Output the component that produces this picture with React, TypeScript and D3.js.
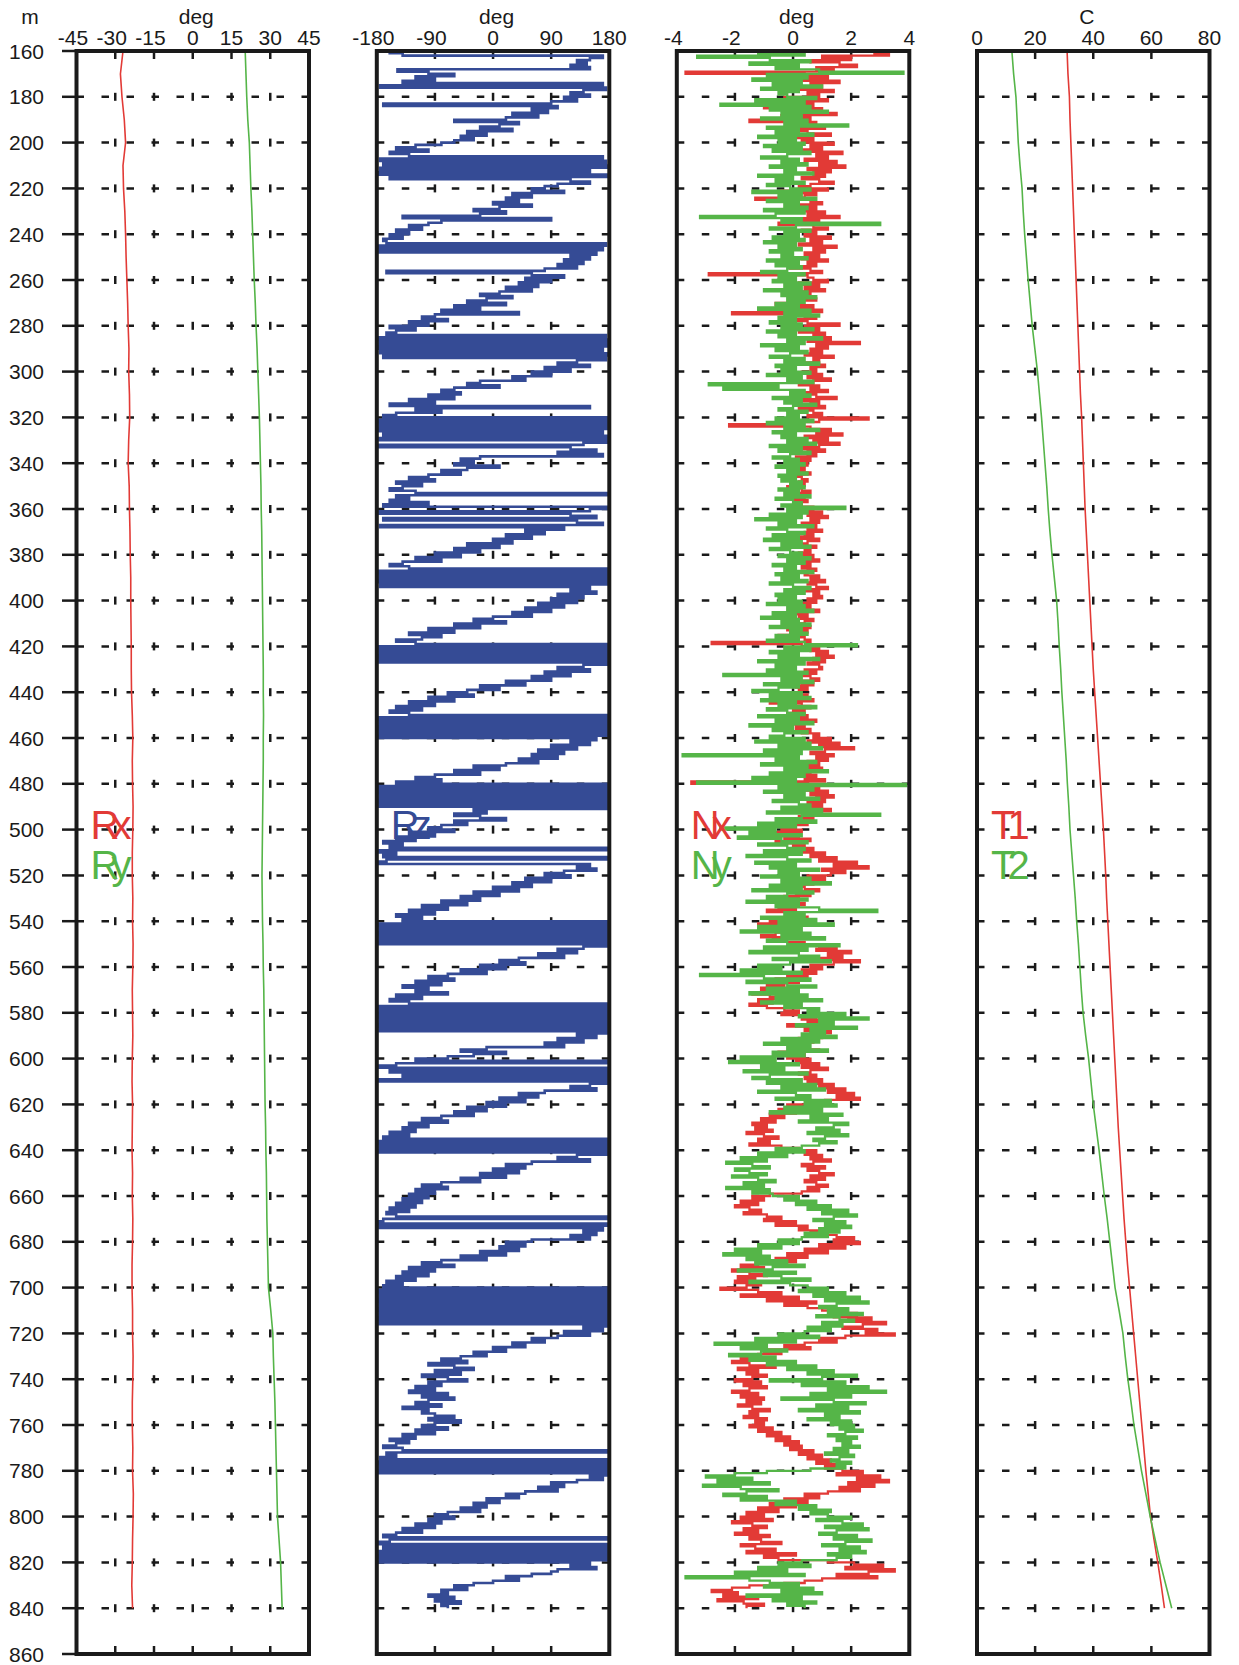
import React, { useEffect, useRef } from 'react';
import * as d3 from 'd3';

// depth axis (m)
const depthTicks = [160, 180, 200, 220, 240, 260, 280, 300, 320, 340, 360, 380, 400, 420, 440, 460, 480, 500, 520, 540, 560, 580, 600, 620, 640, 660, 680, 700, 720, 740, 760, 780, 800, 820, 840, 860];

// coarse logs, one value every 10 m from 160 to 840
const coarseDepth = d3.range(160, 841, 10);
const rx = [
  -27.0, -28.0, -27.4, -26.5, -26.0, -27.0, -26.8, -26.3, -26.0, -25.8,
  -25.5, -25.2, -25.0, -24.7, -24.8, -24.5, -24.4, -24.8, -25.0, -24.6,
  -24.5, -24.3, -24.2, -24.0, -24.0, -23.9, -23.8, -23.8, -23.7, -23.4,
  -23.2, -23.4, -23.3, -23.1, -23.2, -23.4, -23.4, -23.2, -23.3, -23.1,
  -23.2, -23.4, -23.3, -23.2, -23.4, -23.5, -23.3, -23.4, -23.5, -23.3,
  -23.4, -23.2, -23.3, -23.5, -23.5, -23.3, -23.3, -23.1, -23.2, -23.4,
  -23.4, -23.2, -23.3, -23.0, -23.1, -23.3, -23.4, -23.6, -23.3,
];
const ry = [
  20.3, 20.6, 20.9, 21.3, 21.9, 22.2, 22.5, 22.9, 23.2, 23.5,
  23.8, 24.2, 24.5, 24.9, 25.2, 25.5, 25.8, 26.0, 26.2, 26.4,
  26.5, 26.7, 26.8, 26.9, 27.0, 27.1, 27.2, 27.3, 27.3, 27.4,
  27.3, 27.3, 27.2, 27.1, 27.0, 26.9, 26.8, 26.9, 27.0, 27.2,
  27.3, 27.5, 27.6, 27.7, 27.8, 27.9, 28.0, 28.2, 28.3, 28.5,
  28.6, 28.7, 28.9, 29.1, 29.3, 30.2, 31.0, 31.2, 31.5, 31.8,
  32.0, 32.2, 32.4, 32.6, 32.8, 33.4, 34.0, 34.3, 34.6,
];
const t1 = [
  31.0, 31.3, 31.8, 32.0, 32.3, 32.6, 32.9, 33.2, 33.5, 33.8,
  34.1, 34.4, 34.7, 35.0, 35.3, 35.6, 36.0, 36.3, 36.6, 36.9,
  37.2, 37.6, 38.0, 38.4, 38.8, 39.2, 39.6, 40.0, 40.5, 41.0,
  41.5, 42.0, 42.5, 43.0, 43.5, 43.9, 44.3, 44.6, 45.0, 45.4,
  45.8, 46.2, 46.6, 47.0, 47.4, 47.8, 48.2, 48.6, 49.1, 49.6,
  50.1, 50.6, 51.2, 51.8, 52.5, 53.2, 53.9, 54.6, 55.3, 56.0,
  56.7, 57.4, 58.1, 58.9, 59.7, 60.9, 62.2, 63.4, 64.5,
];
const t2 = [
  12.0, 12.6, 13.4, 13.8, 14.2, 14.8, 15.5, 15.9, 16.4, 17.0,
  17.6, 18.3, 19.0, 19.9, 20.8, 21.5, 22.2, 22.8, 23.4, 24.0,
  24.5, 25.1, 25.8, 26.6, 27.4, 27.9, 28.3, 28.8, 29.2, 29.7,
  30.2, 30.7, 31.1, 31.6, 32.0, 32.6, 33.2, 33.8, 34.3, 34.9,
  35.4, 35.9, 36.5, 37.4, 38.4, 39.2, 40.0, 41.0, 42.0, 42.9,
  43.8, 44.8, 45.7, 46.6, 47.5, 48.9, 50.2, 51.0, 51.9, 53.0,
  54.0, 55.3, 56.6, 58.1, 59.6, 61.3, 63.0, 65.0, 67.0,
];

// fine logs, one value every metre from 160 to 840
const fineDepth = d3.range(160, 841, 1);
const rz = [
  -170, -160, -140, 170, 150, 130, 145, 120, 150, -148,
  -100, -60, -120, -90, -140, 170, -175, 175, 140, 120,
  150, 110, 130, 90, -170, 100, 60, 85, 30, 70,
  20, -60, 40, 10, -20, 30, -40, -10, -50, -30,
  -60, -80, -120, -150, -100, -160, -130, 170, -175, 175,
  -170, 178, -175, 150, -178, 178, -160, 120, 150, 100,
  80, 60, 110, 30, 60, 20, 40, 0, 60, 10,
  -30, 20, -20, -140, 90, -80, -100, -130, -110, -150,
  -130, -160, -140, -170, -165, 175, -178, 170, -176, 160,
  120, 150, 110, 140, 100, 130, 80, -165, 60, 110,
  50, 90, 40, 70, 20, 60, 10, -20, 30, -10,
  -40, 20, -60, -20, -80, 40, -90, -110, -70, -130,
  -100, -160, -120, -150, -165, 175, -178, 178, -176, 176,
  -178, 170, -175, 178, -170, 175, 130, 100, 150, 80,
  120, 60, 90, 30, 50, -20, -40, 10, -60, -80,
  -50, -100, -60, -130, -90, -160, 150, -120, -80, -150,
  -170, 178, -178, 176, -176, 178, -178, 170, -170, 178,
  -176, 176, 140, -178, 120, 160, 100, 170, -20, -50,
  -30, -60, 10, -40, -80, -50, -100, -130, -90, -150,
  -110, -140, -160, -120, 178, -150, -130, -160, -100, -170,
  178, 150, -176, 120, 160, -170, 130, 170, -175, 110,
  50, 80, 20, 60, 0, 30, -40, 10, -60, -20,
  -90, -50, -120, -80, -140, -160, -130, 178, -178, 176,
  -176, 178, -178, 176, -175, 150, 120, 160, 100, 140,
  90, 130, 70, 110, 50, 90, 30, 60, 0, -30,
  20, -60, -20, -100, -60, -130, -80, -110, -150, -120,
  178, -178, 176, -176, 178, -178, 176, -176, 178, 140,
  100, 150, 80, 120, 60, 90, 20, 50, -20, 10,
  -40, -70, -30, -100, -60, -130, -90, -150, -110, -160,
  -130, 178, -178, 176, -176, 178, -178, 176, -176, 178,
  -178, 160, 120, 150, 90, 130, 70, 110, 60, 100,
  40, 70, 20, -30, 10, -60, -20, -90, -120, -80,
  -150, 178, -178, 178, -178, 176, -176, 178, -178, 176,
  -176, 178, -30, -10, -60, -20, 20, -60, -40, -80,
  -100, -60, -130, -90, -150, -120, -170, -140, -160, 176,
  -176, -150, -170, 178, -165, -178, 150, 130, 160, 110,
  80, 120, 50, 90, 30, 60, 0, 40, -30, 10,
  -50, -20, -80, -40, -110, -70, -130, -90, -150, -110,
  -140, 178, -178, 176, -176, 178, -178, 176, -176, 178,
  -178, 176, 140, 100, 130, 70, 110, 40, 10, 50,
  -20, 20, -50, -10, -70, -100, -60, -120, -80, -140,
  -100, -120, -70, -150, -110, -160, -130, 178, -178, 176,
  -176, 178, -178, 176, -176, 178, -178, 176, -176, 178,
  130, 160, 100, 140, 80, 110, -10, -50, 20, -30,
  -70, -120, 178, -150, -176, 176, -160, 178, -140, 176,
  -178, 178, 150, 120, 160, 80, 40, 70, 10, 50,
  -10, 20, -40, -10, -60, -30, -80, -110, -70, -130,
  -100, -140, -120, -160, -130, -170, 178, -178, 176, -176,
  178, -178, 176, 130, 100, 150, 60, 20, 50, 0,
  40, -20, 20, -50, -20, -80, -110, -70, -120, -90,
  -130, -100, -140, -110, -150, -120, -160, -130, -165, -150,
  178, -170, -178, 176, -176, 170, 140, 160, 120, 150,
  60, 20, 50, 10, 40, -20, 20, -50, -10, -80,
  -110, -60, -130, -90, -140, -100, -150, -120, -165, -140,
  -170, 178, -178, 176, -176, 178, -178, 176, -176, 178,
  -178, 176, -176, 178, -178, 176, -176, 178, 140, 170,
  110, 150, 100, 60, 80, 30, 50, 0, 20, -30,
  -10, -50, -80, -40, -100, -60, -30, -90, -50, -110,
  -70, -40, -100, -80, -120, -90, -130, -70, -110, -60,
  -100, -120, -80, -140, -100, -110, -90, -60, -100, -50,
  -90, -110, -70, -120, -90, -140, -120, -160, -130, -150,
  -170, -140, 178, -165, -150, -175, 178, -178, 176, -176,
  178, -178, 176, 150, 170, 130, 90, 110, 70, 100,
  50, 20, 40, -10, 10, -30, -10, -50, -20, -70,
  -90, -60, -100, -80, -120, -90, -140, -110, -150, -170,
  178, -160, -178, 176, -170, 178, -176, 176, -178, 178,
  -176, 150, 120, 160, 100, 90, 60, 20, 40, 0,
  -30, -60, -40, -80, -70, -100, -60, -90, -50, -80,
  -70,
];
const nx = [
  1.2, 2.8, 3.3, 1.0, 2.0, 0.6, 1.6, 2.2, 0.8, 1.4,
  -3.7, 0.4, 1.2, 0.2, 1.6, 0.6, 1.0, -0.2, 1.4, 0.5,
  0.9, -0.3, 1.2, 0.1, 0.7, -1.0, 1.0, 0.3, 1.5, -0.4,
  0.6, -1.5, 0.8, 0.2, 1.1, -0.2, 0.5, 1.3, 0.0, 0.7,
  0.3, 1.4, 0.6, 1.0, 0.2, 1.7, 0.8, 1.2, 0.4, 1.5,
  0.9, 1.8, 0.5, 1.3, 0.7, 1.1, 0.3, 0.9, 1.4, 0.6,
  0.2, 1.2, -0.4, 0.8, 0.4, -1.3, 0.6, 1.0, 0.1, 0.8,
  -0.2, 1.1, 0.5, 1.6, 0.2, 0.9, -0.5, 0.7, 1.2, 0.3,
  0.8, 0.4, 1.3, 0.6, 1.0, 0.2, 1.5, 0.7, 1.1, 0.4,
  0.9, 0.3, 1.2, 0.5, 0.8, -0.1, 0.6, 1.0, -2.9, 0.5,
  0.7, 1.2, 0.2, 0.9, 0.4, 1.1, -0.3, 0.6, 0.1, 0.8,
  0.3, -0.6, 0.7, 0.2, 1.0, -2.1, 0.4, 0.8, 0.0, 0.5,
  1.6, 0.4, 0.9, 0.2, 1.1, 0.7, 1.3, 0.5, 2.3, 0.8,
  1.2, 0.6, 1.0, 0.4, 1.4, 0.7, 0.9, 0.3, 1.1, 0.6,
  0.8, 0.3, 1.0, 0.5, 1.3, 0.7, 0.2, 0.9, 0.6, 1.2,
  0.4, 0.8, 1.5, 0.3, 0.9, 0.6, 1.1, 0.2, 0.7, 1.0,
  0.5, 2.6, 0.9, 0.2, -2.2, 0.6, 1.3, 0.8, 1.7, 0.4,
  1.2, 0.7, 1.6, 0.9, 0.3, 1.1, 0.5, 0.8, 0.1, 0.6,
  0.2, 0.5, -0.1, 0.4, 0.1, 0.6, 0.0, 0.3, 0.5, 0.2,
  0.4, -0.2, 0.3, 0.6, 0.1, 0.4, -0.1, 0.5, 0.2, 0.3,
  0.7, 0.4, 1.0, 0.5, 1.2, 0.6, 0.9, 0.3, 0.8, 0.5,
  1.0, 0.4, 0.7, 0.2, 0.9, 0.5, 0.3, 0.8, 0.4, 0.6,
  0.2, 0.7, 0.4, 0.9, 0.1, 0.6, 0.3, 0.8, 0.5, 0.4,
  0.9, 0.6, 1.1, 0.5, 0.8, 1.2, 0.4, 0.9, 0.7, 1.0,
  0.5, 0.8, 0.2, 0.6, 0.3, 0.9, -0.1, 0.5, 0.2, 0.7,
  0.4, 0.1, 0.6, -0.2, 0.5, 0.3, -0.5, 0.4, 0.6, -2.8,
  0.3, 0.9, 0.6, 1.2, 0.8, 1.4, 0.7, 1.1, 0.5, 0.9,
  1.0, 0.4, 0.8, 0.2, 0.6, 0.9, 0.3, 0.7, 0.1, 0.5,
  0.2, -0.4, 0.5, 0.1, 0.7, -0.8, 0.3, 0.6, 0.0, 0.4,
  -0.2, 0.5, 0.2, 0.8, -0.5, 0.4, 0.1, 0.6, 0.3, 0.9,
  0.7, 1.3, 0.5, 1.6, 0.9, 2.1, 1.1, 0.6, 1.4, 0.8,
  1.2, 0.5, 0.9, 0.3, 1.0, 0.6, 0.2, 0.8, 0.4, 1.1,
  -3.5, 0.5, 0.9, 0.3, 1.2, 0.6, 1.4, 0.8, 1.1, 0.5,
  1.0, 0.6, 1.3, 0.4, 0.9, 0.2, 0.7, -0.3, 0.5, 0.1,
  -0.4, 0.3, -0.8, 0.2, -0.3, 0.6, -0.6, 0.4, 0.0, 0.7,
  0.3, 1.1, 0.6, 1.5, 0.9, 2.2, 1.4, 2.6, 1.0, 1.8,
  1.3, 0.5, 1.1, 0.2, 0.7, -0.2, 0.4, 0.9, 0.1, 0.6,
  -0.3, 0.2, -0.7, 0.4, -0.5, 0.1, -0.9, 0.3, -0.2, 0.5,
  -0.8, -0.2, -1.2, -0.5, -0.9, 0.1, -0.6, -1.1, -0.3, -0.7,
  0.4, 0.9, 1.5, 0.8, 2.0, 1.2, 1.7, 0.9, 2.3, 1.4,
  0.6, 1.0, 0.3, 0.8, -0.2, 0.5, -0.6, 0.2, -0.9, -0.3,
  -1.1, -0.5, -1.4, -0.8, -0.4, -1.2, -0.7, -1.5, -0.9, -0.3,
  0.2, -0.4, 0.8, 0.3, 1.1, 0.5, -0.2, 0.9, 0.4, 1.3,
  0.6, 1.0, 0.2, 0.7, -0.3, 0.5, 0.1, 0.9, -0.5, 0.4,
  -0.2, 0.6, 0.1, 0.9, 0.3, 1.2, 0.6, 0.2, 0.8, 0.4,
  1.0, 0.5, 1.4, 0.9, 1.8, 1.2, 2.1, 1.5, 2.3, 1.1,
  0.6, -0.2, 0.3, -0.5, 0.1, -0.8, -0.3, -1.1, -0.6, -1.4,
  -0.9, -1.3, -0.7, -1.6, -1.0, -0.5, -1.2, -0.8, -1.5, -0.4,
  0.2, 0.8, 0.4, 1.0, 0.6, 1.3, 0.7, 0.3, 1.1, 0.5,
  0.9, 1.4, 0.6, 1.1, 0.4, 0.8, 1.2, 0.5, 0.9, 0.3,
  -0.8, -1.4, -1.0, -1.8, -1.2, -2.0, -1.5, -1.1, -1.7, -0.9,
  -0.4, -1.0, 0.1, -0.6, 0.5, 0.2, 1.0, 0.6, 1.5, 2.1,
  1.4, 2.3, 0.9, 1.8, 0.4, 1.2, -0.2, 0.5, -0.6, 0.1,
  -1.2, -1.8, -1.0, -2.1, -1.5, -0.9, -1.9, -1.3, -2.0, -1.1,
  -1.6, -2.5, -1.2, -0.4, -1.8, 0.2, -0.9, 0.8, -0.3, 0.5,
  1.0, 1.6, 2.2, 1.4, 2.7, 1.9, 3.2, 2.4, 1.7, 2.9,
  2.5, 3.5, 1.8, 0.9, 1.5, 0.4, -0.3, 0.6, -1.0, -0.4,
  -1.2, -1.8, -0.8, -2.1, -1.5, -0.6, -1.9, -1.2, -1.6, -0.9,
  -1.4, -2.0, -1.1, -1.7, -0.9, -1.5, -2.1, -1.2, -1.8, -1.0,
  -1.6, -1.1, -1.9, -1.4, -0.8, -1.5, -1.2, -1.7, -0.9, -1.3,
  -1.0, -1.5, -0.7, -1.2, -0.4, -0.9, -0.1, -0.6, 0.2, -0.3,
  0.3, -0.1, 0.7, 0.2, 1.0, 0.5, 1.3, 0.8, 1.6, 1.1,
  1.7, 2.4, 1.5, 3.0, 2.2, 3.3, 1.9, 2.8, 1.6, 2.3,
  1.2, 0.4, 0.9, -0.3, 0.5, -0.8, 0.1, -1.2, -0.5, -1.6,
  -1.0, -1.8, -0.7, -2.1, -1.4, -0.9, -1.7, -1.2, -2.0, -0.8,
  -1.5, -1.1, -0.4, -1.8, -1.3, -0.6, -1.6, 0.1, -1.0, -0.5,
  1.2, 2.1, 3.1, 1.8, 3.5, 2.6, 1.5, 2.9, 1.0, 0.4,
  -0.3, -1.5, -2.1, -2.8, -1.9, -2.4, -1.2, -2.6, -1.7, -1.0,
  -1.6,
];
const ny = [
  -3.9, -1.2, 0.4, -3.3, -0.8, 0.6, -1.5, 0.2, -0.6, 0.9,
  3.8, -0.9, 0.5, -1.4, 0.3, -0.7, 1.0, -1.1, 0.2, -0.5,
  -0.2, 0.8, -1.3, 0.4, -2.5, 0.6, -0.8, 1.2, -0.4, 0.3,
  -1.1, 0.5, -0.3, 1.9, -0.9, 0.2, -0.6, 0.7, -1.2, 0.1,
  -0.5, 0.4, -1.0, 0.3, -0.7, 0.6, -0.2, -1.1, 0.2, -0.4,
  0.5, -0.8, 0.1, -0.3, 0.7, -1.2, 0.0, -0.6, 0.4, -0.9,
  -0.1, 0.6, -1.4, 0.3, -0.5, 0.8, -0.9, 0.2, -0.3, 0.5,
  -1.0, 0.4, -0.6, -3.2, 0.3, -0.4, 3.0, 0.1, -0.8, 0.6,
  -0.3, 0.2, -0.7, 0.4, -1.0, 0.1, -0.5, 0.3, -0.8, 0.0,
  -0.4, 0.5, -0.9, 0.2, -0.6, 0.3, -0.2, -1.1, 0.4, -0.5,
  0.1, -0.7, 0.6, -0.3, 0.3, -1.0, 0.5, -0.4, 0.8, -0.2,
  0.4, -0.6, 0.2, -1.2, 0.6, -0.3, 0.9, -0.5, 0.1, -0.8,
  0.3, -0.4, 0.7, -0.9, 0.1, -0.5, 1.0, -0.2, 0.4, -1.1,
  0.2, -0.6, 0.5, -0.1, -0.8, 0.4, -0.3, 0.9, -0.6, 0.1,
  -0.4, 0.6, -0.9, 0.3, -0.2, 0.7, -2.9, -0.5, -2.4, 0.4,
  -0.1, 0.6, -0.7, 0.3, -0.3, 0.8, 0.0, -0.5, 0.5, -0.2,
  0.2, -0.6, 0.7, -0.9, 0.4, -0.3, 0.9, -0.7, 0.1, -0.4,
  0.5, -0.2, 0.8, -0.8, 0.3, -0.5, 0.6, -0.1, -0.7, 0.2,
  -0.3, 0.4, -0.6, 0.2, -0.2, 0.5, -0.5, 0.1, -0.4, 0.3,
  -0.1, 0.4, -0.5, 0.2, -0.3, 0.6, -0.6, 0.0, 0.3, -0.4,
  1.8, -0.2, 0.5, -0.8, 0.3, -1.3, 0.1, -0.5, 0.7, -0.9,
  -0.2, 0.4, -0.7, 0.2, -1.0, 0.3, -0.4, 0.6, -0.8, -0.1,
  0.3, -0.5, 0.6, -0.2, 0.4, -0.7, 0.1, -0.3, 0.7, -0.6,
  0.2, -0.4, 0.5, -0.8, 0.0, 0.6, -0.3, 0.4, -0.6, 0.1,
  -0.5, 0.3, -0.9, 0.4, -0.2, 0.7, -0.7, 0.1, -1.1, 0.2,
  -0.4, 0.6, -0.8, 0.3, -0.1, 0.5, -0.6, 0.2, -0.9, 0.4,
  2.2, -0.3, 0.6, -0.8, 0.2, -0.5, 0.9, -1.2, 0.4, -0.6,
  0.1, -0.9, 0.5, -2.4, 0.3, -0.4, 0.7, -1.0, 0.2, -0.5,
  -1.4, 0.3, -0.8, 0.6, -1.1, 0.1, -0.5, 0.8, -0.9, -0.2,
  0.4, -1.2, 0.2, -0.6, 0.7, -1.5, 0.0, -0.7, 0.5, -0.3,
  -0.8, 0.4, -1.3, 0.6, -0.5, 1.0, -1.0, 0.3, -3.8, 0.2,
  -0.6, 0.8, -1.1, 0.5, -0.3, 1.2, -0.8, 0.4, -1.4, 0.1,
  -3.3, 3.9, -0.5, 0.7, -1.0, 0.4, -0.3, 0.9, -0.7, 0.2,
  0.6, -0.4, 1.0, -0.9, 3.0, 0.3, -0.6, 0.8, -1.2, 0.1,
  -2.5, -0.6, -1.5, 0.3, -1.9, -0.4, 0.5, -1.2, -0.2, 0.4,
  -1.0, 0.3, -1.6, -0.2, 0.6, -1.3, 0.1, -0.8, 0.9, -0.5,
  0.2, -1.1, 0.6, -0.4, 1.3, -0.8, 0.3, -1.4, 0.7, -0.2,
  -0.9, 0.5, -1.6, 0.2, -0.6, 0.9, 2.9, -0.3, 0.4, -1.1,
  0.8, -0.5, 1.4, -1.2, 0.3, -1.8, 0.6, -0.4, 1.1, -0.9,
  -0.2, 1.6, -1.0, 0.5, -1.5, 0.2, 0.9, -0.7, 1.3, -0.1,
  -1.2, -0.4, -1.8, 0.3, -3.2, -1.0, 0.6, -1.6, -0.2, 0.8,
  -0.9, 0.2, -1.5, 0.5, -0.6, 1.0, -1.1, 0.3, -0.3, 0.9,
  0.5, 1.8, 0.2, 2.6, 0.9, 1.4, 0.1, 2.2, 0.6, 1.1,
  0.3, 1.5, -0.4, 0.9, -1.0, 0.6, -0.2, 1.2, -0.7, 0.4,
  -1.8, -0.6, -2.2, 0.2, -1.1, -0.3, -1.7, 0.5, -0.8, -1.4,
  0.3, -0.9, 0.8, -0.4, 1.1, -1.2, 0.1, 0.6, -0.6, 1.3,
  0.4, 1.5, -0.3, 1.0, -0.8, 1.7, 0.6, 1.2, 0.2, 1.9,
  1.4, 0.8, 1.6, 0.5, 1.9, 1.1, 0.7, 1.5, 0.9, 0.3,
  -0.6, 0.4, -1.2, -0.2, -1.8, -0.9, -2.3, -1.4, -0.8, -2.0,
  -1.5, -0.9, -2.1, -1.2, -0.6, -1.7, -1.0, -2.3, -0.8, -1.4,
  -0.7, 0.2, -0.3, 0.8, 0.1, 1.3, 0.5, 1.9, 1.0, 2.2,
  1.4, 0.7, 1.8, 1.1, 2.0, 0.9, 1.6, 0.4, 1.2, 0.3,
  -0.5, 0.2, -1.2, -0.4, -2.0, -1.1, -2.4, -0.8, -1.6, -0.2,
  -1.3, 0.4, -0.7, -1.9, 0.1, -1.0, -0.4, 0.6, -1.5, -0.1,
  0.5, 1.2, 0.2, 1.8, 0.7, 2.3, 1.1, 2.6, 1.5, 0.9,
  1.9, 1.2, 2.4, 0.8, 1.6, 2.1, 1.0, 1.7, 0.5, 1.3,
  0.4, -0.5, 0.9, -1.3, 0.1, -2.7, -0.9, -1.8, -0.2, -1.1,
  -2.2, -0.6, -1.5, 0.1, -0.9, 0.8, -0.2, 1.4, 0.5, 2.2,
  1.0, -0.8, 1.8, 0.3, 2.6, 1.2, 3.2, 0.6, 2.0, -0.4,
  1.4, 2.5, 0.8, 1.9, 0.2, 2.3, 1.1, 1.6, 0.5, 2.0,
  1.3, 2.1, 1.6, 2.4, 1.8, 1.2, 2.2, 1.5, 2.0, 1.7,
  2.3, 1.4, 1.9, 1.1, 2.1, 1.6, 1.3, 2.0, 1.5, 1.8,
  0.6, -0.9, -2.0, -3.0, -1.4, -2.6, -0.8, -3.1, -1.8, -0.5,
  -1.6, -2.4, -0.9, -1.8, 0.1, -0.6, 0.8, 0.2, 1.3, 0.6,
  1.2, 2.0, 0.8, 1.7, 2.4, 1.1, 2.6, 1.5, 0.9, 2.2,
  1.4, 2.7, 1.8, 1.0, 2.3, 1.6, 2.5, 1.2, 2.0, 1.5,
  0.3, -0.5, 0.6, -1.2, -0.2, -2.0, 0.4, -3.7, -1.5, -0.8,
  0.2, -1.0, 0.7, -0.4, 1.0, -1.6, 0.3, -0.7, 0.8, -0.2,
  0.4,
];

const RED = '#e23a36';
const GREEN = '#55b548';
const BLUE = '#354b95';
const INK = '#1a1a1a';
const FONT = '"Liberation Sans", Arial, Helvetica, sans-serif';

const panels = [
  {
    domain: [-45, 45], ticks: [-45, -30, -15, 0, 15, 30, 45], unit: 'deg',
    series: [
      { depth: coarseDepth, values: rx, color: RED, width: 1.6, step: false },
      { depth: coarseDepth, values: ry, color: GREEN, width: 1.6, step: false },
    ],
    legend: [{ text: 'Rx', color: RED }, { text: 'Ry', color: GREEN }],
  },
  {
    domain: [-180, 180], ticks: [-180, -90, 0, 90, 180], unit: 'deg',
    series: [{ depth: fineDepth, values: rz, color: BLUE, width: 2.6, step: true }],
    legend: [{ text: 'Rz', color: BLUE }],
  },
  {
    domain: [-4, 4], ticks: [-4, -2, 0, 2, 4], unit: 'deg',
    series: [
      { depth: fineDepth, values: nx, color: RED, width: 2.3, step: true },
      { depth: fineDepth, values: ny, color: GREEN, width: 2.3, step: true },
    ],
    legend: [{ text: 'Nx', color: RED }, { text: 'Ny', color: GREEN }],
  },
  {
    domain: [0, 80], ticks: [0, 20, 40, 60, 80], unit: 'C',
    series: [
      { depth: coarseDepth, values: t1, color: RED, width: 1.6, step: false },
      { depth: coarseDepth, values: t2, color: GREEN, width: 1.6, step: false },
    ],
    legend: [{ text: 'T1', color: RED }, { text: 'T2', color: GREEN }],
  },
];

const W = 1239, H = 1665;
const TOP = 51, BOTTOM = 1654;
const PANEL_LEFT = [76.5, 376.8, 676.8, 977];
const PANEL_W = 232.5;

export default function App() {
  const ref = useRef<SVGSVGElement>(null);

  useEffect(() => {
    const svg = d3.select(ref.current);
    svg.selectAll('*').remove();
    const defs = svg.append('defs');

    const y = d3.scaleLinear().domain([160, 860]).range([TOP, BOTTOM]);
    const gridRows = depthTicks.slice(1, -1);

    // depth labels and outer ticks, left of the first track
    svg.append('text').attr('x', 30).attr('y', 24).attr('text-anchor', 'middle')
      .attr('font-family', FONT).attr('font-size', 21).attr('fill', INK).text('m');
    svg.append('g').selectAll('text').data(depthTicks).join('text')
      .attr('x', 44).attr('y', d => y(d) + 7.5).attr('text-anchor', 'end')
      .attr('font-family', FONT).attr('font-size', 21).attr('fill', INK)
      .text(d => d);
    svg.append('g').selectAll('line').data(depthTicks).join('line')
      .attr('x1', 62).attr('x2', PANEL_LEFT[0]).attr('y1', d => y(d)).attr('y2', d => y(d))
      .attr('stroke', INK).attr('stroke-width', 2.5);

    panels.forEach((p, i) => {
      const left = PANEL_LEFT[i];
      const right = left + PANEL_W;
      const x = d3.scaleLinear().domain(p.domain).range([left, right]);
      const inner = p.ticks.slice(1, -1);
      const g = svg.append('g');

      defs.append('clipPath').attr('id', 'trk' + i).append('rect')
        .attr('x', left).attr('y', TOP).attr('width', PANEL_W).attr('height', BOTTOM - TOP);

      // dashed depth grid
      g.append('g').selectAll('line').data(gridRows).join('line')
        .attr('x1', left).attr('x2', right).attr('y1', d => y(d)).attr('y2', d => y(d))
        .attr('stroke', INK).attr('stroke-width', 2.5).attr('stroke-dasharray', '7.5 17.5');

      // small value ticks on every grid row, plus top and bottom edges
      const marks: { v: number; d: number }[] = [];
      gridRows.forEach(d => inner.forEach(v => marks.push({ v, d })));
      g.append('g').selectAll('line').data(marks).join('line')
        .attr('x1', d => x(d.v)).attr('x2', d => x(d.v))
        .attr('y1', d => y(d.d) - 4).attr('y2', d => y(d.d) + 4)
        .attr('stroke', INK).attr('stroke-width', 2.5);
      g.append('g').selectAll('line').data(inner).join('line')
        .attr('x1', d => x(d)).attr('x2', d => x(d)).attr('y1', TOP).attr('y2', TOP + 8)
        .attr('stroke', INK).attr('stroke-width', 2.5);
      g.append('g').selectAll('line').data(inner).join('line')
        .attr('x1', d => x(d)).attr('x2', d => x(d)).attr('y1', BOTTOM - 8).attr('y2', BOTTOM)
        .attr('stroke', INK).attr('stroke-width', 2.5);

      // data (noisy logs drawn as horizontal steps, like the sampled record)
      const lines = g.append('g').attr('clip-path', `url(#trk${i})`);
      p.series.forEach(s => {
        const line = d3.line<number>()
          .x(v => x(v))
          .y((_, j) => y(s.depth[j]))
          .curve(s.step ? d3.curveStepAfter : d3.curveLinear);
        lines.append('path').attr('d', line(s.values.slice(0, s.depth.length)))
          .attr('fill', 'none').attr('stroke', s.color).attr('stroke-width', s.width)
          .attr('stroke-linejoin', 'miter');
      });

      // legend
      p.legend.forEach((l, k) => {
        g.append('text').attr('x', left + 14).attr('y', 839 + k * 40)
          .attr('font-family', FONT).attr('font-size', 40).attr('fill', l.color)
          .style('letter-spacing', '-8px').text(l.text);
      });

      // frame
      g.append('rect').attr('x', left).attr('y', TOP).attr('width', PANEL_W).attr('height', BOTTOM - TOP)
        .attr('fill', 'none').attr('stroke', INK).attr('stroke-width', 4);

      // value labels, centred on the digits
      g.append('g').selectAll('text').data(p.ticks).join('text')
        .attr('x', d => x(d) + String(Math.abs(d)).length * 5.84).attr('y', 45)
        .attr('text-anchor', 'end').attr('font-family', FONT).attr('font-size', 21).attr('fill', INK)
        .text(d => d);
      g.append('text').attr('x', (left + right) / 2 - 14).attr('y', 24)
        .attr('font-family', FONT).attr('font-size', 21).attr('fill', INK).text(p.unit);
    });
  }, []);

  return (
    <svg ref={ref} width={W} height={H}
      style={{ position: 'absolute', left: 0, top: 0, background: '#fff' }} />
  );
}
